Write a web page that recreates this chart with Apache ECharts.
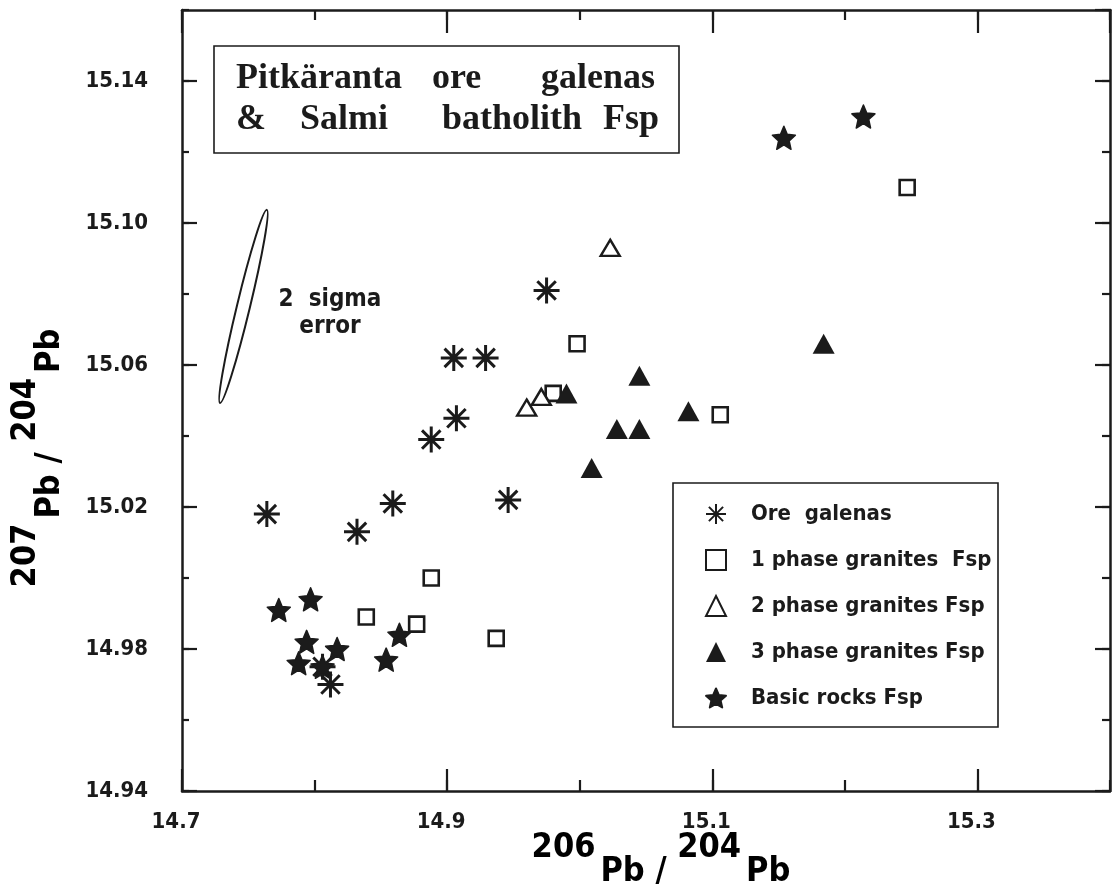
<!DOCTYPE html>
<html>
<head>
<meta charset="utf-8">
<title>Pitkäranta ore galenas & Salmi batholith Fsp</title>
<script src="https://cdn.jsdelivr.net/npm/echarts@6/dist/echarts.min.js"></script>
<style>
  html, body { margin: 0; padding: 0; background: #fff; }
  #chart { width: 1115px; height: 891px; }
</style>
</head>
<body>
<div id="chart"></div>
<script>
// 206Pb/204Pb (x) vs 207Pb/204Pb (y)
const seriesNames = ['Ore  galenas', '1 phase granites  Fsp', '2 phase granites Fsp', '3 phase granites Fsp', 'Basic rocks Fsp'];

const oreGalenas = [
  [14.975, 15.081], [14.905, 15.062], [14.929, 15.062], [14.907, 15.045], [14.888, 15.039],
  [14.764, 15.018], [14.859, 15.021], [14.946, 15.022], [14.832, 15.013],
  [14.806, 14.975], [14.812, 14.970]
];
const phase1Granites = [
  [14.888, 15.000], [14.839, 14.989], [14.877, 14.987], [14.937, 14.983],
  [14.998, 15.066], [14.980, 15.052], [15.106, 15.046], [15.247, 15.110]
];
const phase2Granites = [[15.023, 15.093], [14.960, 15.048], [14.971, 15.051]];
const phase3Granites = [
  [14.990, 15.052], [15.045, 15.057], [15.028, 15.042], [15.045, 15.042],
  [15.082, 15.047], [15.009, 15.031], [15.184, 15.066]
];
const basicRocks = [
  [14.773, 14.991], [14.797, 14.994], [14.794, 14.982], [14.788, 14.976], [14.817, 14.980],
  [14.806, 14.975], [14.854, 14.977], [14.864, 14.984], [15.154, 15.124], [15.214, 15.130]
];
// the two ends of the "2 sigma error" ellipse
const errorEllipse = [[14.764, 15.1037], [14.7287, 15.0493]];

const INK = '#1b1b1b';
const SANS = '"Liberation Sans Narrow", "DejaVu Sans Condensed", "Arial Narrow", sans-serif';
const SERIF = '"Liberation Serif", "DejaVu Serif", serif';

const ASTERISK = 'path://M10 0V20M0 10H20M2.9 2.9L17.1 17.1M2.9 17.1L17.1 2.9';
const STAR = 'path://M10 0L12.9 6.6L20 7.3L14.6 12L16.2 19L10 15.3L3.8 19L5.4 12L0 7.3L7.1 6.6Z';

const chart = echarts.init(document.getElementById('chart'));

function xAxisDef(position, interval, tickLen, withLine, withLabel) {
  return {
    type: 'value', min: 14.7, max: 15.4, interval: interval, position: position,
    splitLine: { show: false },
    axisLine: { show: withLine, onZero: false, lineStyle: { color: INK, width: 2.5 } },
    axisTick: { show: true, inside: true, length: tickLen, lineStyle: { color: INK, width: 2.2 } },
    axisLabel: {
      show: withLabel, margin: 20, color: INK, fontFamily: SANS, fontWeight: 'bold', fontSize: 22,
      padding: [0, 12, 0, 0], showMaxLabel: false, formatter: v => v.toFixed(1)
    }
  };
}
function yAxisDef(position, interval, tickLen, withLine, withLabel) {
  return {
    type: 'value', min: 14.94, max: 15.16, interval: interval, position: position,
    splitLine: { show: false },
    axisLine: { show: withLine, onZero: false, lineStyle: { color: INK, width: 2.5 } },
    axisTick: { show: true, inside: true, length: tickLen, lineStyle: { color: INK, width: 2.2 } },
    axisLabel: {
      show: withLabel, margin: 34, color: INK, fontFamily: SANS, fontWeight: 'bold', fontSize: 22,
      showMaxLabel: false, formatter: v => v.toFixed(2)
    }
  };
}

const option = {
  backgroundColor: '#ffffff',
  animation: false,
  grid: { left: 182, right: 5, top: 10, bottom: 100 },
  xAxis: [
    xAxisDef('bottom', 0.2, 22, true, true),
    xAxisDef('bottom', 0.1, 11, false, false),
    xAxisDef('top', 0.2, 23, true, false),
    xAxisDef('top', 0.1, 10, false, false)
  ],
  yAxis: [
    yAxisDef('left', 0.04, 15, true, true),
    yAxisDef('left', 0.02, 7, false, false),
    yAxisDef('right', 0.04, 15, true, false),
    yAxisDef('right', 0.02, 8, false, false)
  ],
  legend: {
    orient: 'vertical', left: 705, top: 503, padding: 0,
    itemGap: 24, itemWidth: 20, itemHeight: 20, selectedMode: false,
    textStyle: { color: INK, fontFamily: SANS, fontWeight: 'bold', fontSize: 22, padding: [0, 0, 0, 20] },
    data: seriesNames
  },
  series: [
    {
      name: seriesNames[0], type: 'scatter', data: oreGalenas,
      symbol: ASTERISK, symbolSize: 26,
      itemStyle: { color: INK, borderColor: INK, borderWidth: 3, opacity: 1 }
    },
    {
      name: seriesNames[1], type: 'scatter', data: phase1Granites,
      symbol: 'rect', symbolSize: 15,
      itemStyle: { color: '#fff', borderColor: INK, borderWidth: 2.6, opacity: 1 }
    },
    {
      name: seriesNames[2], type: 'scatter', data: phase2Granites,
      symbol: 'triangle', symbolSize: [19, 16],
      itemStyle: { color: '#fff', borderColor: INK, borderWidth: 2.4, opacity: 1 }
    },
    {
      name: seriesNames[3], type: 'scatter', data: phase3Granites,
      symbol: 'triangle', symbolSize: [22, 20],
      itemStyle: { color: INK, opacity: 1 }
    },
    {
      name: seriesNames[4], type: 'scatter', data: basicRocks,
      symbol: STAR, symbolSize: 23,
      itemStyle: { color: INK, borderColor: INK, borderWidth: 1.5, borderJoin: 'round', opacity: 1 }
    }
  ]
};
chart.setOption(option);

// annotations: title box, legend box, axis titles, error ellipse
const ellTop = chart.convertToPixel({ gridIndex: 0 }, errorEllipse[0]);
const ellBot = chart.convertToPixel({ gridIndex: 0 }, errorEllipse[1]);
const ellLen = Math.hypot(ellTop[0] - ellBot[0], ellTop[1] - ellBot[1]);
const ellRot = -Math.atan2(ellTop[0] - ellBot[0], ellBot[1] - ellTop[1]);

const titleFont = { fontFamily: SERIF, fontWeight: 'bold', fontSize: 36, fill: INK, verticalAlign: 'middle' };
function word(text, x, y, align) {
  return { type: 'text', x: x, y: y, style: Object.assign({ text: text, align: align || 'left' }, titleFont) };
}
const axisRich = {
  n: { fontFamily: SANS, fontWeight: 'bold', fontSize: 34, color: INK, lineHeight: 58, verticalAlign: 'top' },
  p: { fontFamily: SANS, fontWeight: 'bold', fontSize: 34, color: INK, lineHeight: 58, verticalAlign: 'bottom', padding: [0, 0, 0, 5] }
};

chart.setOption({
  graphic: [
    { type: 'rect', shape: { x: 214, y: 46, width: 465, height: 107 },
      style: { fill: 'none', stroke: INK, lineWidth: 1.6 } },
    word('Pitkäranta', 236, 79), word('ore', 432, 79), word('galenas', 655, 79, 'right'),
    word('&', 236, 120), word('Salmi', 300, 120), word('batholith', 442, 120), word('Fsp', 659, 120, 'right'),
    { type: 'rect', shape: { x: 673, y: 483, width: 325, height: 244 },
      style: { fill: 'none', stroke: INK, lineWidth: 1.6 } },
    { type: 'ellipse', x: (ellTop[0] + ellBot[0]) / 2, y: (ellTop[1] + ellBot[1]) / 2, rotation: ellRot,
      shape: { cx: 0, cy: 0, rx: 6.5, ry: ellLen / 2 },
      style: { fill: 'none', stroke: INK, lineWidth: 2 } },
    { type: 'text', x: 330, y: 313,
      style: { text: '2  sigma\nerror', align: 'center', verticalAlign: 'middle', lineHeight: 27,
        fontFamily: SANS, fontWeight: 'bold', fontSize: 24, fill: INK } },
    { type: 'text', x: 661, y: 860,
      style: { text: '{n|206}{p|Pb / }{n|204}{p|Pb}', rich: axisRich, align: 'center', verticalAlign: 'middle' } },
    { type: 'text', x: 38, y: 458, rotation: Math.PI / 2,
      style: { text: '{n|207}{p|Pb / }{n|204}{p|Pb}', rich: axisRich, align: 'center', verticalAlign: 'middle' } }
  ]
});
</script>
</body>
</html>
